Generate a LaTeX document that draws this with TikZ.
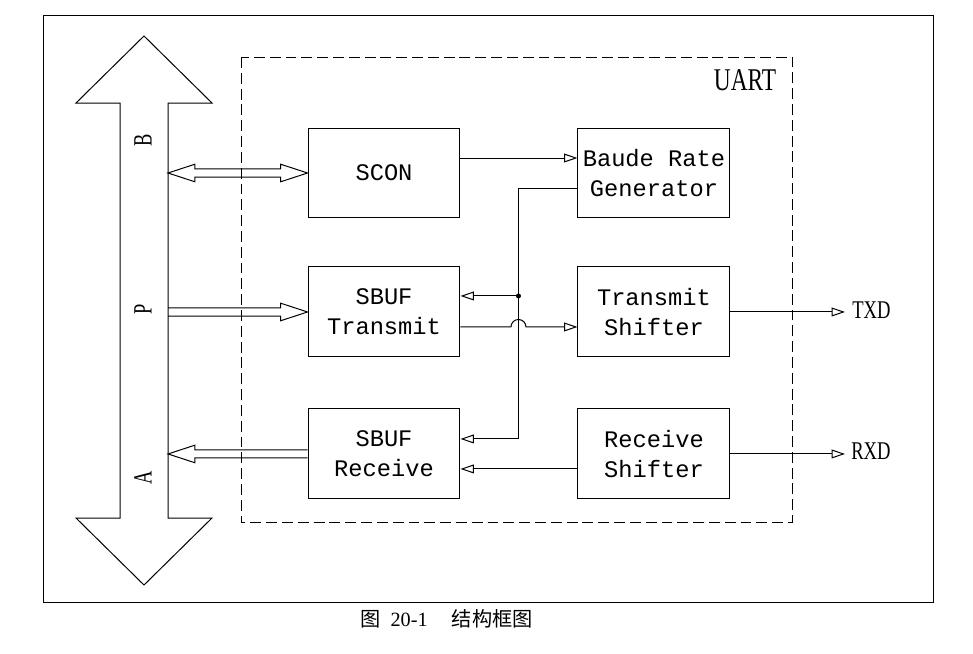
\documentclass[tikz,border=0pt]{standalone}
\usepackage{fontspec}
\setmainfont{Liberation Serif}
\newfontfamily\boxfont{Liberation Mono}
\newfontfamily\cjk{Noto Sans CJK SC}
\usetikzlibrary{calc,positioning,arrows.meta}

\begin{document}
\begin{tikzpicture}[x=0.02cm,y=-0.02cm]
      \tikzstyle{blk}=[rectangle,draw,line width=.02cm,minimum width=3.04cm,minimum height=1.8cm,inner sep=1pt,align=center,font=\boxfont\fontsize{13.5pt}{17pt}\selectfont]
      \tikzstyle{sig}=[line width=.02cm,-{Triangle[open,length=7.6pt,width=5pt]}]
      \tikzstyle{pinlbl}=[inner sep=0,font=\fontsize{14.5pt}{17pt}\selectfont,xscale=0.73,transform shape]
      \tikzstyle{buslbl}=[inner sep=0,font=\fontsize{15pt}{17pt}\selectfont,rotate=90,xscale=0.7,transform shape]
      \tikzstyle{fat}=[line width=.02cm,to path={let \p1=(\tikztostart),\p2=(\tikztotarget),\n1={sign(\x2-\x1)} in
        (\x1,{\y1+2.3pt}) -- ({\x2-(\n1)*15.3pt},{\y2+2.3pt}) -- ({\x2-(\n1)*15.3pt},{\y2+5pt}) -- (\x2,\y2)
        -- ({\x2-(\n1)*15.3pt},{\y2-5pt}) -- ({\x2-(\n1)*15.3pt},{\y2-2.3pt}) -- (\x1,{\y1-2.3pt})}]
      \tikzstyle{fatboth}=[line width=.02cm,to path={let \p1=(\tikztostart),\p2=(\tikztotarget) in
        (\x1,\y1) -- ({\x1+15.3pt},{\y1+5pt}) -- ({\x1+15.3pt},{\y1+2.3pt}) -- ({\x2-15.3pt},{\y2+2.3pt}) -- ({\x2-15.3pt},{\y2+5pt}) -- (\x2,\y2)
        -- ({\x2-15.3pt},{\y2-5pt}) -- ({\x2-15.3pt},{\y2-2.3pt}) -- ({\x1+15.3pt},{\y1-2.3pt}) -- ({\x1+15.3pt},{\y1-5pt}) -- cycle}]

      \useasboundingbox (0,0) rectangle (973,653);
      \draw[line width=.02cm] (43,15) rectangle (933,602);

      % system bus
      \draw[line width=.02cm] (144,36) -- (212,103) -- (168,103) -- (168,518) -- (212,518) -- (144,585)
        -- (76,518) -- (120,518) -- (120,103) -- (76,103) -- cycle;
      \coordinate (busedge) at (168,310);
      \node[buslbl] (lb) at (143,140) {B};
      \node[buslbl] (lp) at (143,309) {P};
      \node[buslbl] (la) at (143,478) {A};

      % UART frame
      \draw[line width=.02cm,dash pattern=on 6.2pt off 2.8pt] (241,57) rectangle (792,522);
      \node[inner sep=0,font=\fontsize{18pt}{20pt}\selectfont,xscale=0.74,transform shape] (uart) at (745,80.5) {UART};

      \node[blk] (scon) at (384,173) {SCON};
      \node[blk] (baud) [right=2.34cm of scon] {Baude Rate\\Generator};
      \node[blk] (sbuft) [below=0.96cm of scon] {SBUF\\Transmit};
      \node[blk] (tshift) [right=2.34cm of sbuft] {Transmit\\Shifter};
      \node[blk] (sbufr) [below=1.02cm of sbuft] {SBUF\\Receive};
      \node[blk] (rshift) [right=2.34cm of sbufr] {Receive\\Shifter};
      \node[pinlbl,anchor=west] (txd) at (852,310) {TXD};
      \node[pinlbl,anchor=west] (rxd) at (851,451) {RXD};

      \coordinate (tap) at ($(baud.west)+(-59,15)$);
      \coordinate (tin) at ($(sbuft.east)+(0,-16)$);
      \coordinate (tout) at ($(sbuft.east)+(0,15)$);

      \draw[fatboth] (busedge |- scon.west) to (scon.west);
      \draw[fat] (busedge |- sbuft.west) to (sbuft.west);
      \draw[fat] (sbufr.west) to (busedge |- sbufr.west);

      \draw[sig] ($(scon.east)+(0,-15)$) -- ($(baud.west)+(0,-15)$);
      \draw[sig] ($(baud.west)+(0,15)$) -- (tap) |- ($(sbufr.east)+(0,-15)$);
      \draw[sig] (tap |- tin) -- (tin);
      \fill (tap |- tin) circle[radius=0.05cm];
      \draw[sig] (tout) -- ($(tap |- tout)+(-7.5,0)$) arc[start angle=180,end angle=0,radius=0.15cm] -- ($(tshift.west)+(0,15)$);
      \draw[sig] ($(rshift.west)+(0,15)$) -- ($(sbufr.east)+(0,15)$);
      \draw[sig] (tshift.east) -- ($(tshift.east -| txd.west)+(-7,0)$);
      \draw[sig] (rshift.east) -- ($(rshift.east -| rxd.west)+(-6,0)$);

      \node[font=\fontsize{11.5pt}{14pt}\selectfont] (cap) at (446.5,619) {{\cjk 图}\hspace{0.5em}20-1\hspace{1.2em}{\cjk 结构框图}};
\end{tikzpicture}
\end{document}
